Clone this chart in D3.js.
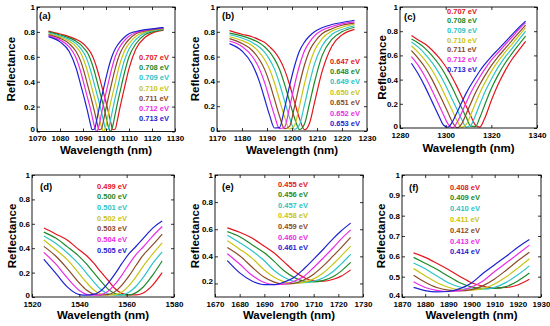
<!DOCTYPE html>
<meta charset="utf-8">
<style>
body { margin: 0; background: #fff; }
svg { display: block; font-family: "Liberation Sans", Arial, sans-serif; }
.axis path { display: none; }
.axis line { stroke: #000; stroke-width: 0.8; }
.axis text { font-size: 8px; font-weight: bold; fill: #000; font-family: "Liberation Sans", Arial, sans-serif; }
.frame { fill: none; stroke: #000; stroke-width: 0.9; }
.title { font-size: 11.5px; font-weight: bold; text-anchor: middle; }
.tag { font-size: 9.5px; font-weight: bold; }
.legend text { font-size: 7.5px; font-weight: bold; }
.curve { fill: none; stroke-width: 1.2; }
</style>
<svg width="550" height="326"></svg>
<script src="https://d3js.org/d3.v7.min.js"></script>
<script>

// line colours, in legend order (lowest energy first)
var colors = ["#e3141c", "#1d8a2a", "#2cc4c6", "#c9c414", "#8a4a28", "#ec2ce6", "#1e22d2"];

// (a)
var energyA = ["0.707 eV", "0.708 eV", "0.709 eV", "0.710 eV", "0.711 eV", "0.712 eV", "0.713 eV"];
var waveA = [1075, 1080, 1084, 1087, 1089, 1091, 1092, 1093, 1094, 1095, 1096, 1097, 1098, 1099,
             1100, 1101, 1102, 1103, 1104, 1105, 1106, 1108, 1110, 1113, 1117, 1121, 1125];
var reflA = [
  [.807, .783, .762, .74, .72, .69, .668, .643, .61, .565, .51, .445, .375, .305, .235, .16, .08, .015, .02, .095, .185, .35, .505, .663, .757, .798, .815],
  [.80, .775, .752, .725, .698, .655, .63, .59, .54, .48, .41, .34, .27, .2, .12, .04, 0, .05, .14, .23, .31, .47, .6, .705, .78, .805, .819],
  [.793, .768, .74, .706, .668, .61, .565, .51, .445, .375, .305, .235, .16, .08, .015, .02, .095, .185, .27, .35, .43, .57, .663, .739, .793, .812, .823],
  [.785, .758, .725, .68, .63, .54, .48, .41, .34, .27, .2, .12, .04, 0, .05, .14, .23, .31, .39, .47, .54, .645, .705, .765, .8, .816, .826],
  [.778, .748, .706, .643, .565, .445, .375, .305, .235, .16, .08, .015, .02, .095, .185, .27, .35, .43, .505, .57, .623, .693, .739, .785, .808, .82, .829],
  [.77, .735, .68, .59, .48, .34, .27, .2, .12, .04, 0, .05, .14, .23, .31, .39, .47, .54, .6, .645, .68, .73, .765, .795, .813, .824, .832],
  [.762, .72, .643, .51, .375, .235, .16, .08, .015, .02, .095, .185, .27, .35, .43, .505, .57, .623, .663, .693, .718, .757, .785, .803, .818, .827, .835]
];

// (b)
var energyB = ["0.647 eV", "0.648 eV", "0.649 eV", "0.650 eV", "0.651 eV", "0.652 eV", "0.653 eV"];
var waveB = [1175, 1180, 1184, 1187, 1189, 1191, 1193, 1195, 1197, 1199, 1201, 1203, 1205, 1207, 1209, 1212, 1216, 1220, 1225];
var reflB = [
  [.81, .78, .76, .735, .715, .68, .64, .58, .495, .375, .235, .10, .01, .063, .229, .477, .686, .775, .82],
  [.79, .767, .739, .71, .68, .638, .58, .498, .379, .24, .105, .012, .057, .221, .393, .606, .741, .80, .837],
  [.776, .75, .715, .676, .636, .578, .499, .383, .245, .11, .014, .05, .213, .387, .541, .686, .78, .819, .849],
  [.76, .729, .69, .632, .577, .50, .387, .25, .115, .016, .043, .205, .381, .537, .649, .744, .806, .837, .861],
  [.745, .706, .651, .575, .499, .39, .255, .12, .018, .037, .197, .375, .532, .648, .716, .784, .825, .853, .87],
  [.726, .682, .605, .499, .394, .259, .125, .019, .03, .189, .369, .528, .647, .717, .767, .812, .843, .864, .88],
  [.705, .645, .541, .396, .264, .13, .024, .027, .181, .361, .522, .645, .717, .766, .801, .833, .859, .875, .893]
];

// (c)
var energyC = ["0.707 eV", "0.708 eV", "0.709 eV", "0.710 eV", "0.711 eV", "0.712 eV", "0.713 eV"];
var waveC = [1285, 1288, 1291, 1294, 1297, 1299, 1301, 1303, 1305, 1307, 1309, 1311, 1313, 1315, 1317, 1320, 1323, 1326, 1329, 1332, 1335];
var reflC = [
  [.765, .728, .694, .645, .583, .535, .479, .413, .34, .26, .18, .10, .025, .008, .076, .227, .361, .472, .566, .641, .716],
  [.735, .702, .658, .598, .527, .469, .402, .328, .248, .168, .088, .016, .012, .088, .186, .326, .439, .535, .614, .688, .76],
  [.71, .668, .611, .542, .456, .388, .312, .232, .152, .072, .008, .022, .102, .198, .29, .403, .503, .586, .656, .728, .80],
  [.68, .625, .559, .479, .378, .30, .22, .14, .06, .005, .029, .11, .202, .291, .367, .468, .553, .624, .692, .761, .83],
  [.64, .576, .50, .402, .288, .208, .128, .048, .002, .034, .116, .204, .289, .362, .427, .515, .59, .656, .722, .786, .85],
  [.59, .517, .423, .312, .192, .112, .034, .002, .046, .126, .21, .291, .361, .424, .483, .561, .624, .688, .75, .814, .871],
  [.535, .446, .34, .22, .10, .025, .006, .052, .13, .21, .288, .355, .415, .473, .523, .59, .65, .71, .77, .83, .884]
];

// (d)
var energyD = ["0.499 eV", "0.500 eV", "0.501 eV", "0.502 eV", "0.503 eV", "0.504 eV", "0.505 eV"];
var waveD = [1525, 1530, 1535, 1540, 1543, 1546, 1549, 1552, 1555, 1558, 1561, 1564, 1567, 1571, 1575];
var reflD = [
  [.565, .517, .465, .385, .34, .279, .208, .14, .07, .03, .017, .017, .033, .098, .20],
  [.532, .483, .411, .331, .271, .201, .132, .067, .029, .017, .017, .036, .082, .18, .296],
  [.50, .44, .361, .266, .196, .126, .063, .027, .016, .018, .039, .088, .16, .275, .37],
  [.468, .389, .304, .19, .12, .06, .025, .016, .019, .041, .093, .167, .253, .353, .444],
  [.415, .336, .231, .115, .057, .024, .016, .02, .044, .098, .173, .26, .343, .427, .515],
  [.366, .271, .154, .053, .022, .015, .02, .046, .103, .18, .268, .349, .41, .499, .578],
  [.31, .196, .081, .02, .015, .021, .049, .109, .187, .275, .355, .416, .48, .565, .622]
];

// (e)
var energyE = ["0.455 eV", "0.456 eV", "0.457 eV", "0.458 eV", "0.459 eV", "0.460 eV", "0.461 eV"];
var waveE = [1675, 1680, 1685, 1690, 1694, 1698, 1702, 1706, 1710, 1714, 1718, 1721, 1725];
var reflE = [
  [.61, .578, .535, .474, .424, .359, .292, .245, .219, .217, .231, .252, .30],
  [.582, .545, .486, .426, .363, .293, .245, .217, .211, .223, .251, .289, .355],
  [.555, .501, .441, .367, .295, .245, .214, .205, .216, .242, .29, .341, .415],
  [.515, .453, .387, .299, .245, .212, .201, .208, .234, .279, .345, .40, .475],
  [.465, .404, .321, .245, .21, .196, .20, .225, .268, .331, .405, .461, .54],
  [.42, .343, .26, .207, .192, .194, .216, .252, .318, .39, .465, .525, .595],
  [.368, .278, .218, .191, .191, .21, .244, .307, .379, .454, .533, .585, .645]
];

// (f)
var energyF = ["0.408 eV", "0.409 eV", "0.410 eV", "0.411 eV", "0.412 eV", "0.413 eV", "0.414 eV"];
var waveF = [1875, 1880, 1885, 1890, 1895, 1900, 1905, 1910, 1915, 1920, 1925];
var reflF = [
  [.617, .595, .566, .535, .501, .47, .453, .445, .447, .459, .487],
  [.595, .566, .536, .502, .47, .45, .442, .442, .451, .479, .518],
  [.567, .539, .504, .47, .449, .439, .438, .447, .472, .509, .553],
  [.54, .505, .471, .448, .436, .434, .441, .464, .499, .542, .588],
  [.507, .473, .447, .434, .43, .436, .456, .489, .532, .578, .62],
  [.475, .447, .433, .427, .431, .449, .479, .525, .568, .611, .655],
  [.447, .4315, .425, .427, .441, .469, .517, .559, .60, .645, .683]
];

var yTicks01 = [0, 0.2, 0.4, 0.6, 0.8, 1],
    yTicksE = [0.2, 0.4, 0.6, 0.8, 1],
    yTicksF = [0.4, 0.5, 0.6, 0.7, 0.8, 0.9, 1];

var panels = [
  {tag: "(a)", wave: waveA, refl: reflA, energy: energyA, xd: [1070, 1130], xt: d3.range(1070, 1131, 10), yd: [0, 1], yt: yTicks01,
   box: [37, 7, 175, 131.5], leg: [139, 57, 10.3], tagAt: [39, 19], ylab: 11, xlab: 154},
  {tag: "(b)", wave: waveB, refl: reflB, energy: energyB, xd: [1170, 1230], xt: d3.range(1170, 1231, 10), yd: [0, 1], yt: yTicks01,
   box: [217, 7, 367, 131], leg: [330, 61, 10.4], tagAt: [222, 19], ylab: 195, xlab: 154},
  {tag: "(c)", wave: waveC, refl: reflC, energy: energyC, xd: [1280, 1340], xt: d3.range(1280, 1341, 20), yd: [0, 1], yt: yTicks01,
   box: [400, 7, 537, 128], leg: [447, 11, 9.7], tagAt: [404, 20], ylab: 382, xlab: 152},
  {tag: "(d)", wave: waveD, refl: reflD, energy: energyD, xd: [1520, 1580], xt: d3.range(1520, 1581, 20), yd: [0, 1], yt: yTicks01,
   box: [32, 175, 174, 297], leg: [97, 186, 10.7], tagAt: [40, 190], ylab: 12, xlab: 319},
  {tag: "(e)", wave: waveE, refl: reflE, energy: energyE, xd: [1670, 1730], xt: d3.range(1670, 1731, 10), yd: [0.1, 1], yt: yTicksE,
   box: [215, 175, 363, 297], leg: [278, 184, 10.6], tagAt: [222, 190], ylab: 195, xlab: 319},
  {tag: "(f)", wave: waveF, refl: reflF, energy: energyF, xd: [1870, 1930], xt: d3.range(1870, 1931, 10), yd: [0.4, 1], yt: yTicksF,
   box: [402, 175, 541, 297], leg: [450, 187, 10.8], tagAt: [409, 191], ylab: 381, xlab: 319}
];

var svg = d3.select("svg");
var fmtY = function(d) { return String(+d.toFixed(1)); };

panels.forEach(function(p) {
  var b = p.box;
  var x = d3.scaleLinear().domain(p.xd).range([b[0], b[2]]),
      y = d3.scaleLinear().domain(p.yd).range([b[3], b[1]]);
  var g = svg.append("g");

  var line = d3.line()
      .x(function(d) { return x(d[0]); })
      .y(function(d) { return y(d[1]); })
      .curve(d3.curveMonotoneX);

  g.selectAll(".curve")
      .data(p.refl)
    .enter().append("path")
      .attr("class", "curve")
      .attr("stroke", function(d, i) { return colors[i]; })
      .attr("d", function(row) { return line(p.wave.map(function(w, j) { return [w, row[j]]; })); });

  g.append("g")
      .attr("class", "axis")
      .attr("transform", "translate(0," + b[3] + ")")
      .call(d3.axisBottom(x).tickValues(p.xt).tickSize(-3).tickPadding(4).tickFormat(d3.format("d")));
  g.append("g")
      .attr("class", "axis")
      .attr("transform", "translate(0," + b[1] + ")")
      .call(d3.axisTop(x).tickValues(p.xt).tickSize(-3).tickFormat(""));
  g.append("g")
      .attr("class", "axis")
      .attr("transform", "translate(" + b[0] + ",0)")
      .call(d3.axisLeft(y).tickValues(p.yt).tickSize(-3).tickPadding(2).tickFormat(fmtY))
    .selectAll("text")
      .attr("dy", function(d, i) { return i === 0 ? "0.02em" : "0.3em"; });
  g.append("g")
      .attr("class", "axis")
      .attr("transform", "translate(" + b[2] + ",0)")
      .call(d3.axisRight(y).tickValues(p.yt).tickSize(-3).tickFormat(""));

  g.append("rect")
      .attr("class", "frame")
      .attr("x", b[0]).attr("y", b[1])
      .attr("width", b[2] - b[0]).attr("height", b[3] - b[1]);

  g.append("text")
      .attr("class", "tag")
      .attr("x", p.tagAt[0]).attr("y", p.tagAt[1])
      .text(p.tag);

  g.append("text")
      .attr("class", "title")
      .attr("x", (b[0] + b[2]) / 2).attr("y", p.xlab)
      .text("Wavelength (nm)");

  g.append("text")
      .attr("class", "title")
      .attr("transform", "translate(" + p.ylab + "," + (b[1] + b[3]) / 2 + ") rotate(-90)")
      .attr("dy", "0.35em")
      .text("Reflectance");

  g.append("g")
      .attr("class", "legend")
    .selectAll("text")
      .data(p.energy)
    .enter().append("text")
      .attr("x", p.leg[0])
      .attr("y", function(d, i) { return p.leg[1] + i * p.leg[2]; })
      .attr("dy", "0.35em")
      .attr("fill", function(d, i) { return colors[i]; })
      .text(function(d) { return d; });
});

</script>
